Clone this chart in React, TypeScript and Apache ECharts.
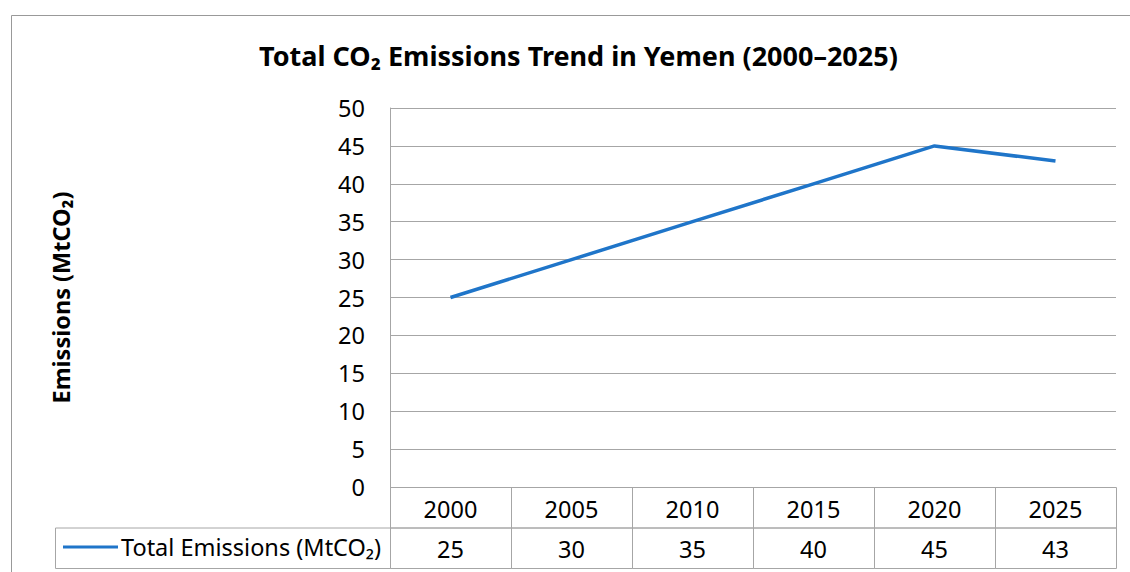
import React, { useEffect, useRef } from "react";
import * as echarts from "echarts";

const TITLE = "Total CO₂ Emissions Trend in Yemen (2000–2025)";
const Y_NAME = "Emissions (MtCO₂)";
const SERIES_NAME = "Total Emissions (MtCO₂)";
const years = ["2000", "2005", "2010", "2015", "2020", "2025"];
const emissions = [25, 30, 35, 40, 45, 43];

const FONT = "'Noto Sans', 'Open Sans', sans-serif";
const GRID_COLOR = "#a6a6a6";
const LINE_COLOR = "#1f75c9";
const FS = 23.5;

export default function App() {
  const ref = useRef<HTMLDivElement>(null);
  useEffect(() => {
    if (!ref.current) return;
    const chart = echarts.init(ref.current, null, { renderer: "svg" });
    const rowH = 40.5;
    chart.setOption({
      animation: false,
      textStyle: { fontFamily: FONT },
      title: {
        text: TITLE,
        left: 259,
        top: 42,
        padding: 0,
        textStyle: { fontFamily: FONT, fontWeight: "bold", fontSize: 27, color: "#000" },
      },
      graphic: [
        {
          type: "rect",
          shape: { x: 11.5, y: 15.5, width: 1136, height: 600 },
          style: { fill: "none", stroke: "#999", lineWidth: 1 },
          silent: true,
          z: -1,
        },
        {
          type: "rect",
          shape: { x: 55.5, y: 487.5 + rowH, width: 335, height: rowH },
          style: { fill: "none", stroke: GRID_COLOR, lineWidth: 1 },
          silent: true,
        },
      ],
      legend: {
        data: [{ name: SERIES_NAME, icon: "rect" }],
        left: 63,
        top: 535,
        itemWidth: 55,
        itemHeight: 3,
        itemGap: 0,
        padding: 0,
        textStyle: { fontFamily: FONT, fontSize: FS, color: "#000", padding: [0, 0, 0, -2] },
      },
      grid: { left: 390, right: 14, top: 108, bottom: 85, containLabel: false },
      xAxis: {
        type: "category",
        data: years,
        boundaryGap: true,
        axisLine: { show: false },
        axisTick: { show: false },
        axisLabel: { show: false },
        splitLine: { show: false },
      },
      yAxis: {
        type: "value",
        min: 0,
        max: 50,
        interval: 5,
        name: Y_NAME,
        nameLocation: "middle",
        nameGap: 317,
        nameRotate: 90,
        nameTextStyle: { fontFamily: FONT, fontWeight: "bold", fontSize: 23.5, color: "#000" },
        axisLine: { show: true, lineStyle: { color: GRID_COLOR, width: 1 } },
        axisTick: { show: false },
        axisLabel: { fontFamily: FONT, fontSize: FS, color: "#000", margin: 25 },
        splitLine: { show: true, lineStyle: { color: GRID_COLOR, width: 1 } },
      },
      series: [
        {
          name: SERIES_NAME,
          type: "line",
          data: emissions,
          symbol: "none",
          lineStyle: { color: LINE_COLOR, width: 3.5 },
          itemStyle: { color: LINE_COLOR },
          z: 3,
        },
        {
          name: "table",
          type: "custom",
          clip: false,
          silent: true,
          data: emissions.map((v, i) => [i, v]),
          encode: { x: 0, y: 1 },
          renderItem: (params: any, api: any) => {
            const idx = api.value(0);
            const val = api.value(1);
            const base = api.coord([idx, 0]);
            const w = api.size([1, 0])[0];
            const x0 = Math.round(base[0] - w / 2) + 0.5;
            const y0 = Math.round(base[1]) + 0.5;
            const lineStyle = { fill: "none", stroke: GRID_COLOR, lineWidth: 1 };
            return {
              type: "group",
              children: [
                { type: "rect", shape: { x: x0, y: y0, width: w, height: rowH }, style: lineStyle },
                { type: "rect", shape: { x: x0, y: y0 + rowH, width: w, height: rowH }, style: lineStyle },
                {
                  type: "text",
                  style: {
                    text: years[idx],
                    x: base[0],
                    y: y0 + rowH / 2 + 1,
                    align: "center",
                    verticalAlign: "middle",
                    fontFamily: FONT,
                    fontSize: FS,
                    fill: "#000",
                  },
                },
                {
                  type: "text",
                  style: {
                    text: String(val),
                    x: base[0],
                    y: y0 + rowH * 1.5 + 1,
                    align: "center",
                    verticalAlign: "middle",
                    fontFamily: FONT,
                    fontSize: FS,
                    fill: "#000",
                  },
                },
              ],
            };
          },
        },
      ],
    });
    return () => chart.dispose();
  }, []);
  return (
    <div
      ref={ref}
      style={{ position: "fixed", left: 0, top: 0, width: 1130, height: 572, background: "#fff" }}
    />
  );
}
